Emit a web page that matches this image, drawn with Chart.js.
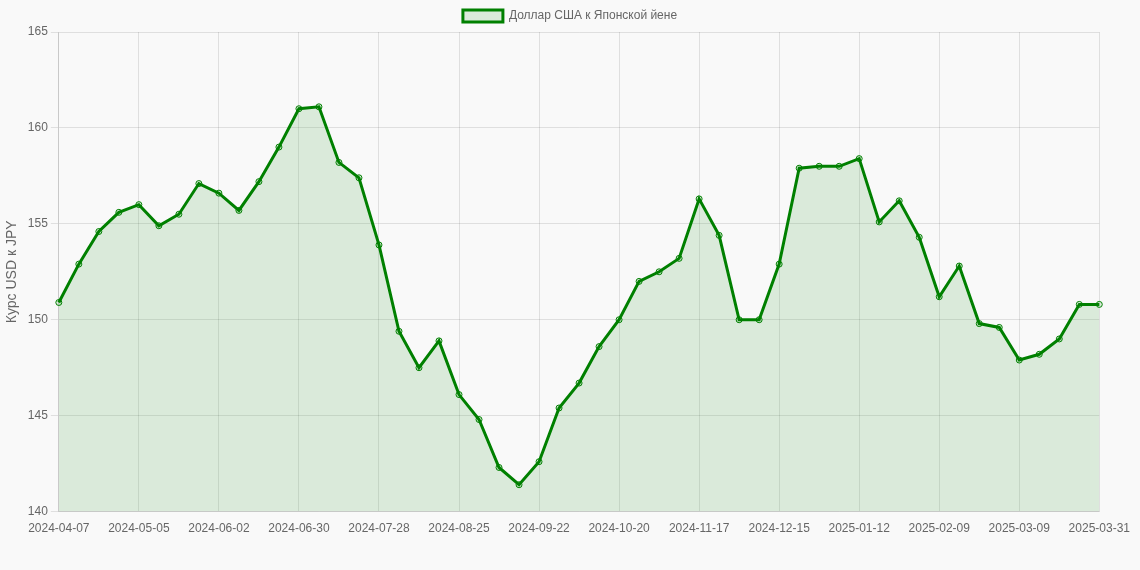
<!DOCTYPE html>
<html>
<head>
<meta charset="utf-8">
<script src="https://cdn.jsdelivr.net/npm/chart.js@4"></script>
<style>
  html, body { margin: 0; padding: 0; background: #f9f9f9; }
  #wrap { width: 1140px; height: 570px; }
</style>
</head>
<body>
<div id="wrap"><canvas id="rateChart"></canvas></div>
<script>
const dates = [];
(function () {
  const d = new Date(Date.UTC(2024, 3, 7));
  for (let i = 0; i < 52; i++) {
    dates.push(d.toISOString().slice(0, 10));
    d.setUTCDate(d.getUTCDate() + 7);
  }
  dates.push('2025-03-31');
})();

const usdJpy = [
  150.9, 152.9, 154.6, 155.6, 156.0, 154.9, 155.5, 157.1, 156.6, 155.7,
  157.2, 159.0, 161.0, 161.1, 158.2, 157.4, 153.9, 149.4, 147.5, 148.9,
  146.1, 144.8, 142.3, 141.4, 142.6, 145.4, 146.7, 148.6, 150.0, 152.0,
  152.5, 153.2, 156.3, 154.4, 150.0, 150.0, 152.9, 157.9, 158.0, 158.0,
  158.4, 155.1, 156.2, 154.3, 151.2, 152.8, 149.8, 149.6, 147.9, 148.2,
  149.0, 150.8, 150.8
];

const yTicks = [140, 145, 150, 155, 160, 165];

Chart.defaults.font.family = '"Liberation Sans", Arial, sans-serif';
Chart.defaults.font.size = 12;
Chart.defaults.color = '#666';

// only every 4th week gets a label and a grid line
const shown = i => i % 4 === 0;

new Chart(document.getElementById('rateChart'), {
  type: 'line',
  data: {
    labels: dates,
    datasets: [{
      label: 'Доллар США к Японской йене',
      data: usdJpy,
      borderColor: 'green',
      backgroundColor: 'rgba(0, 128, 0, 0.12)',
      borderWidth: 3,
      fill: true,
      tension: 0,
      pointRadius: 3,
      pointBorderWidth: 1,
      pointBackgroundColor: 'rgba(0, 128, 0, 0.12)',
      pointBorderColor: 'green'
    }]
  },
  options: {
    responsive: true,
    maintainAspectRatio: false,
    animation: false,
    layout: { padding: { bottom: 24 } },
    plugins: {
      legend: { position: 'top', labels: { boxWidth: 40 } }
    },
    scales: {
      x: {
        grid: {
          color: ctx => shown(ctx.index) ? 'rgba(0,0,0,0.1)' : 'rgba(0,0,0,0)',
          drawTicks: false
        },
        ticks: {
          autoSkip: false,
          maxRotation: 0,
          padding: 10,
          callback: function (v, i) { return shown(i) ? dates[i] : ''; }
        }
      },
      y: {
        min: 140,
        max: 165,
        afterBuildTicks: axis => { axis.ticks = yTicks.map(v => ({ value: v })); },
        grid: { color: 'rgba(0,0,0,0.1)' },
        title: { display: true, text: 'Курс USD к JPY', font: { size: 14 } }
      }
    }
  }
});
</script>
</body>
</html>
